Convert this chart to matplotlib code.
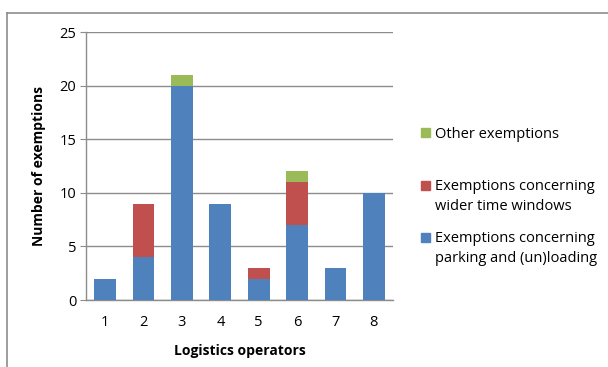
"""
Stacked bar chart of exemptions per logistics operator.
"""

import numpy as np
import matplotlib.pyplot as plt
from matplotlib.patches import Rectangle
from matplotlib.lines import Line2D

# =====================================================
# DATA
# =====================================================

operators = ["1", "2", "3", "4", "5", "6", "7", "8"]

parking = [2, 4, 20, 9, 2, 7, 3, 10]
time_windows = [0, 5, 0, 0, 1, 4, 0, 0]
other = [0, 0, 1, 0, 0, 1, 0, 0]

labels = [
    "Exemptions concerning\nparking and (un)loading",
    "Exemptions concerning\nwider time windows",
    "Other exemptions",
]

colors = ["#4F81BD", "#C0504D", "#9BBB59"]

# =====================================================
# FIGURE
# =====================================================

plt.rcParams["font.family"] = ["Open Sans", "DejaVu Sans"]

W, H = 608, 367

fig = plt.figure(figsize=(W / 100, H / 100), dpi=100)

ax = fig.add_axes([86 / W, 1 - 300 / H, 307 / W, 268 / H])

x = np.arange(len(operators))
width = 0.57

ax.bar(x, parking, width, color=colors[0], zorder=3)
ax.bar(x, time_windows, width, bottom=parking, color=colors[1], zorder=3)
bottom2 = np.array(parking) + np.array(time_windows)
ax.bar(x, other, width, bottom=bottom2, color=colors[2], zorder=3)

ax.set_xlim(-0.5, len(operators) - 0.5)
ax.set_ylim(0, 25)
ax.set_yticks([0, 5, 10, 15, 20, 25])
ax.set_xticks(x)
ax.set_xticklabels(operators)

ax.grid(axis="y", color="#8C8C8C", linewidth=1, zorder=0)

for side in ["top", "right"]:
    ax.spines[side].set_visible(False)
for side in ["left", "bottom"]:
    ax.spines[side].set_color("#8C8C8C")
    ax.spines[side].set_linewidth(1)

ax.tick_params(axis="y", length=4, color="#8C8C8C", labelsize=10.5, pad=3)
ax.tick_params(axis="x", length=0, labelsize=10.5, pad=11)

ax.set_xlabel("Logistics operators", fontsize=10, fontweight="bold", labelpad=10)
ax.set_ylabel("Number of exemptions", fontsize=10, fontweight="bold", labelpad=10)

# =====================================================
# LEGEND (marker aligned with first text line)
# =====================================================

legend_rows = [133, 185, 237]  # pixel y of first line, top to bottom
for row, label, color in zip(legend_rows, labels[::-1], colors[::-1]):

    fig.add_artist(Rectangle(
        (421 / W, 1 - (row + 4.5) / H),
        9 / W,
        9 / H,
        color=color,
        transform=fig.transFigure
    ))

    fig.text(
        435 / W,
        1 - (row - 6) / H,
        label,
        fontsize=10.5,
        va="top",
        ha="left",
        linespacing=1.45
    )

# outer frame (top and left edges)
fig.add_artist(Line2D([7 / W, 1], [1 - 13 / H, 1 - 13 / H],
                      color="#8C8C8C", linewidth=1.2))
fig.add_artist(Line2D([7 / W, 7 / W], [0, 1 - 13 / H],
                      color="#8C8C8C", linewidth=1.2))

fig.savefig("out.png", dpi=100)
